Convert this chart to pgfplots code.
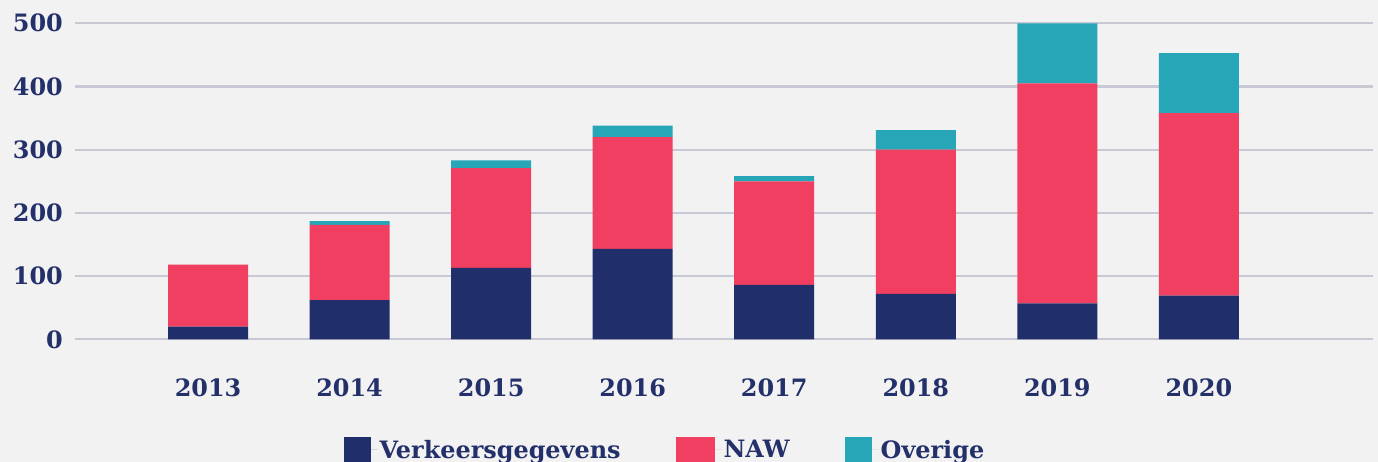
\documentclass[border=0pt]{standalone}
\usepackage{fontspec}
\setmainfont{DejaVu Serif}
\usepackage{pgfplots}
\pgfplotsset{compat=1.18}
\definecolor{navy}{HTML}{202E69}
\definecolor{naw}{HTML}{F03F60}
\definecolor{teal2}{HTML}{27A6B7}
\definecolor{bgc}{HTML}{F2F2F2}
\definecolor{gridc}{HTML}{C9C9D5}
\definecolor{txt}{HTML}{23306A}
\begin{document}
\begin{tikzpicture}
\fill[bgc] (0bp,0bp) rectangle (1378bp,462bp);
\path[use as bounding box] (0bp,0bp) rectangle (1378bp,462bp);
\begin{axis}[
  at={(75bp,122.7bp)}, anchor=south west,
  scale only axis, width=1298bp, height=316bp,
  ybar stacked, bar width=80bp,
  xmin=-0.94, xmax=8.23, ymin=0, ymax=500,
  xtick={0,1,2,3,4,5,6,7},
  xticklabels={2013,2014,2015,2016,2017,2018,2019,2020},
  ytick={0,100,200,300,400,500},
  axis line style={draw=none},
  major tick length=0pt,
  ymajorgrids, grid style={gridc, line width=2.2bp},
  /pgf/number format/assume math mode=true,
  ticklabel style={font=\fontsize{24}{28}\selectfont\bfseries, text=txt, inner sep=0pt},
  xticklabel style={anchor=north, yshift=-39bp},
  yticklabel style={anchor=east, xshift=-12bp},
  clip=false,
  legend columns=3,
  legend style={draw=none, fill=none, at={(0.4545,-0.302)}, anchor=north,
    font=\fontsize{24}{28}\selectfont\bfseries, text=txt,
    /tikz/every even column/.append style={column sep=53bp}},
  legend cell align=left,
]
\addplot[fill=navy, draw=none,
  legend image code/.code={\path[fill=navy] (0bp,-14bp) rectangle (27bp,13bp); \path (27bp,0bp) -- (34bp,0bp);}]
  coordinates {(0,20) (1,62) (2,113) (3,143) (4,86) (5,72) (6,57) (7,69)};
\addplot[fill=naw, draw=none,
  legend image code/.code={\path[fill=naw] (0bp,-14bp) rectangle (39bp,13bp); \path (39bp,0bp) -- (46bp,0bp);}]
  coordinates {(0,98) (1,119) (2,158) (3,177) (4,164) (5,228) (6,348) (7,289)};
\addplot[fill=teal2, draw=none,
  legend image code/.code={\path[fill=teal2] (0bp,-14bp) rectangle (27bp,13bp); \path (27bp,0bp) -- (34bp,0bp);}]
  coordinates {(0,0) (1,6) (2,12) (3,18) (4,8) (5,31) (6,95) (7,95)};
\legend{Verkeersgegevens, NAW, Overige}
\end{axis}
\end{tikzpicture}
\end{document}
